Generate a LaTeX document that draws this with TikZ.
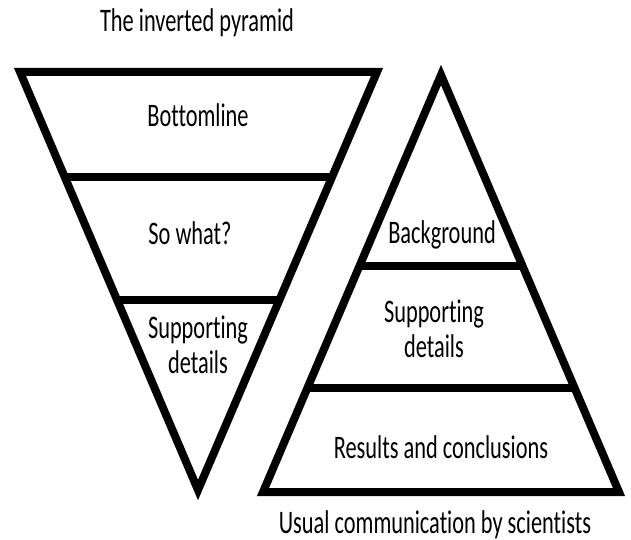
\documentclass[tikz,border=0pt]{standalone}
\usepackage{fontspec}
\setmainfont[FakeStretch=0.68, Ligatures={NoCommon}]{Carlito}
\usetikzlibrary{calc, positioning}

\begin{document}
\begin{tikzpicture}[x=1bp, y=-1bp, line width=8bp, line join=miter,
  lbl/.style={font=\fontsize{33}{35}\selectfont, align=center, inner sep=0pt, anchor=base}]
\useasboundingbox (0,0) rectangle (631,540);
\coordinate (inA) at (20,72);\coordinate (inB) at (377,72);\coordinate (inC) at (198,490);
\coordinate (upA) at (441,75);\coordinate (upB) at (263,492);\coordinate (upC) at (619,492);
\draw (inA)--(inB)--(inC)--cycle;
\draw ($(inA)!0.251!(inC)$)--($(inB)!0.251!(inC)$);
\draw ($(inA)!0.545!(inC)$)--($(inB)!0.545!(inC)$);
\draw (upA)--(upC)--(upB)--cycle;
\draw ($(upA)!0.458!(upB)$)--($(upA)!0.458!(upC)$);
\draw ($(upA)!0.75!(upB)$)--($(upA)!0.75!(upC)$);
\node[lbl] (title) at (197,32) {The inverted pyramid};
\node[lbl] (bottomline) at (198,127) {Bottomline};
\node[lbl] (sowhat) at (190,245) {So what?};
\node[lbl] (details1) at (198,373) {Supporting\\details};
\node[lbl] (background) at (442,244) {Background};
\node[lbl] (details2) at (434,357) {Supporting\\details};
\node[lbl] (results) at (441,458) {Results and conclusions};
\node[lbl] (caption) at (435,533) {Usual communication by scientists};
\end{tikzpicture}
\end{document}
